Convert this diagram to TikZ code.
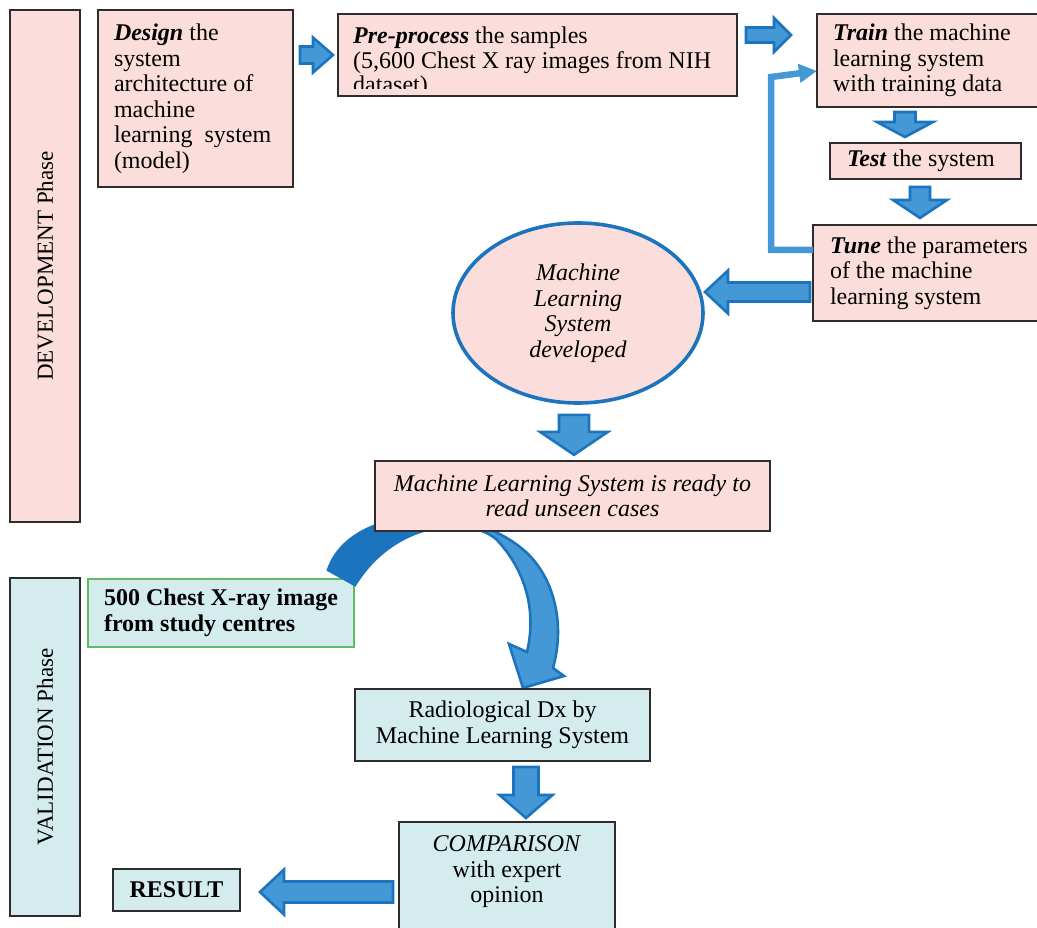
\documentclass[tikz,border=0pt]{standalone}
\usepackage{fontspec}
\setmainfont{Liberation Serif}
\usetikzlibrary{arrows.meta,calc,shapes.geometric}

\definecolor{pinkf}{RGB}{251,222,219}
\definecolor{cyanf}{RGB}{212,236,238}
\definecolor{blight}{RGB}{68,152,213}
\definecolor{bdark}{RGB}{27,116,189}
\definecolor{gborder}{RGB}{95,188,100}
\definecolor{boxline}{RGB}{45,45,45}

\newcommand{\mainsz}{\fontsize{24}{25.5}\selectfont}
\newcommand{\blockarrow}[6]{% #1 start, #2 angle, #3 length, #4 shaft w, #5 head w, #6 head len
  \begin{scope}[shift={#1}, rotate=#2]
    \draw[barrow] (0,{-#4/2}) -- ({#3-#6},{-#4/2}) -- ({#3-#6},{-#5/2}) -- (#3,0)
      -- ({#3-#6},{#5/2}) -- ({#3-#6},{#4/2}) -- (0,{#4/2}) -- cycle;
  \end{scope}}

\begin{document}
\begin{tikzpicture}[x=1pt,y=-1pt,
  font=\mainsz,
  box/.style={draw=boxline, line width=1.3pt, inner sep=0pt, outer sep=0pt},
  pbox/.style={box, fill=pinkf},
  cbox/.style={box, fill=cyanf},
  barrow/.style={fill=blight, draw=bdark, line width=2.6pt, line join=miter},
  fb/.style={draw=blight, line width=6.5pt, line join=miter, -{Triangle[length=18pt,width=18pt]}}]

\useasboundingbox (0,0) rectangle (1037,928);

% phase columns
\node[pbox, rotate=90, minimum width=512pt, minimum height=70pt,
      font=\fontsize{23}{25}\selectfont] (dev) at (45,266) {DEVELOPMENT Phase};
\node[cbox, rotate=90, minimum width=338pt, minimum height=70pt,
      font=\fontsize{23}{25}\selectfont] (val) at (45,747) {VALIDATION Phase};

% development boxes
\node[pbox, anchor=north west, minimum width=195pt, minimum height=177pt,
      text width=163pt, inner xsep=16pt, align=flush left] (design) at (98,10)
  {\textbf{\textit{Design}} the\\ system\\ architecture of\\ machine\\ learning\ \ system\\ (model)};

\node[pbox, anchor=north west, minimum width=399pt, minimum height=82pt] (pre) at (338,14) {};
\begin{scope}
  \clip (339,15) rectangle (736,89);
  \node[anchor=north west, align=left, inner sep=0pt, font=\fontsize{24}{24.5}\selectfont]
    (pretext) at (353,27)
    {\textbf{\textit{Pre-process}} the samples\\ (5,600 Chest X ray images from NIH\\ dataset)};
\end{scope}

\node[pbox, anchor=north west, minimum width=235pt, minimum height=93pt,
      text width=203pt, inner xsep=16pt, align=flush left] (train) at (817,14)
  {\textbf{\textit{Train}} the machine\\ learning system\\ with training data};

\node[pbox, anchor=north west, minimum width=191pt, minimum height=36pt,
      text width=157pt, inner xsep=17pt, align=flush left] (test) at (830,143)
  {\textbf{\textit{Test}} the system};

\node[pbox, anchor=north west, minimum width=240pt, minimum height=96pt,
      text width=206pt, inner xsep=17pt, align=flush left] (tune) at (813,225)
  {\textbf{\textit{Tune}} the parameters\\ of the machine\\ learning system};

\node[ellipse, draw=bdark, line width=3.6pt, fill=pinkf, minimum width=250pt,
      minimum height=180pt, inner sep=0pt, align=center, font=\mainsz\itshape]
  (mls) at (578,313) {Machine\\ Learning\\ System\\ developed};

% feedback loop
\draw[fb] ($(tune.north west)+(0,25)$) -| ($(train.west)+(-46,16.5)$) -- ($(train.west)+(0,10.5)$);

% validation boxes
\node[box, draw=gborder, fill=cyanf, anchor=north west, minimum width=266pt,
      minimum height=68pt, align=left, font=\mainsz\bfseries] (src) at (88,579)
  {500 Chest X-ray image\\ from study centres};

% curved arrow (drawn before the ready box, which hides its top)
\def\curvepath{(328,570) .. controls (350,505) and (470,500) .. (527,553)
   .. controls (555,580) and (565,625) .. (553,668) -- (564,676) -- (523,688) -- (509,644)
   -- (527,652) .. controls (537,610) and (525,570) .. (497,540)
   .. controls (470,515) and (395,520) .. (355,585) -- cycle}
\path[fill=blight, draw=bdark, line width=2.6pt, line join=miter] \curvepath;
\begin{scope}
  \clip (300,480) rectangle (482,620);
  \fill[bdark] \curvepath;
\end{scope}

\node[pbox, minimum width=395pt, minimum height=70pt, align=center,
      font=\mainsz\itshape] (ready) at (572.5,496)
  {Machine Learning System is ready to\\ read unseen cases};

\node[cbox, minimum width=295pt, minimum height=72pt, align=center] (radio) at (502.5,725)
  {Radiological Dx by\\ Machine Learning System};

\node[cbox, anchor=north, minimum width=216pt, minimum height=123pt] (compbox) at (507,822) {};
\node[align=center, inner sep=0pt] (comp) at (507,872)
  {\textit{COMPARISON}\\ with expert\\ opinion};

\node[cbox, minimum width=127pt, minimum height=42pt, font=\mainsz\bfseries] (result)
  at (176.5,890) {RESULT};

% block arrows
\blockarrow{($(pre.west)+(-38,0)$)}{0}{33}{17}{35}{20}
\blockarrow{($(pre.east)+(9,-20)$)}{0}{45}{15}{34}{17}
\blockarrow{($(train.south west)+(88,5)$)}{-90}{25}{21}{56}{15}
\blockarrow{($(test.south west)+(90,8)$)}{-90}{31}{20}{54}{18}
\blockarrow{($(tune.west)+(-3,19)$)}{180}{105}{19}{43}{23}
\blockarrow{($(mls.south)+(-4,10)$)}{-90}{40}{30}{68}{23}
\blockarrow{($(radio.south)+(23.5,6)$)}{-90}{51}{25}{53}{23}
\blockarrow{($(compbox.west)+(-6,8.5)$)}{180}{133}{21}{45}{24}

\end{tikzpicture}
\end{document}
